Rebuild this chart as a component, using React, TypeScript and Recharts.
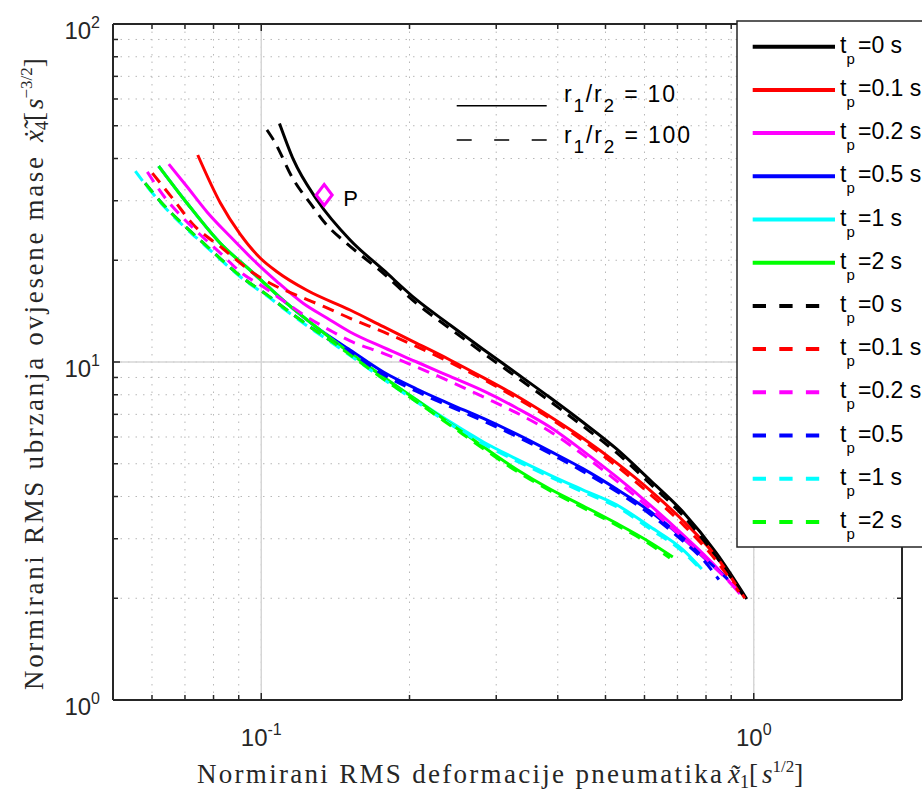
import React from "react";
import {
  ComposedChart,
  Line,
  Scatter,
  XAxis,
  YAxis,
  CartesianGrid,
  ReferenceLine,
} from "recharts";

const CHART_W = 922;
const CHART_H = 791;
const INK = "#262626";
const SANS = "'Liberation Sans', Arial, Helvetica, sans-serif";
const SERIF = "'Liberation Serif', 'Times New Roman', serif";

// axis ticks (log axes: minor + major)
const X_TICKS = [0.06, 0.07, 0.08, 0.09, 0.1, 0.2, 0.3, 0.4, 0.5, 0.6, 0.7, 0.8, 0.9, 1];
const Y_TICKS = [1, 2, 3, 4, 5, 6, 7, 8, 9, 10, 20, 30, 40, 50, 60, 70, 80, 90, 100];
const X_MAJOR = [0.1, 1];
const Y_MAJOR = [10];

// legend
const COLORS = ["#000000", "#ff0000", "#ff00ff", "#0000ff", "#00ffff", "#00ff00"];
const TP_SOLID = ["=0 s", "=0.1 s", "=0.2 s", "=0.5 s", "=1 s", "=2 s"];
const TP_DASHED = ["=0 s", "=0.1 s", "=0.2 s", "=0.5", "=1 s", "=2 s"];
const RATIOS = ["10", "100"];

// r1/r2 = 10 (solid)
const tp0R10X = [0.1089, 0.1163, 0.1297, 0.1515, 0.177, 0.2069, 0.2418, 0.2825, 0.3302, 0.3857, 0.4507, 0.5266, 0.6152, 0.7187, 0.84, 0.968];
const tp0R10Y = [50.8, 39.6, 30.2, 22.96, 18.72, 15.26, 12.87, 10.89, 9.25, 7.85, 6.62, 5.53, 4.48, 3.6, 2.72, 1.99];

const tp01R10X = [0.0743, 0.0826, 0.0906, 0.0995, 0.1076, 0.1238, 0.1515, 0.177, 0.2069, 0.2418, 0.2825, 0.3302, 0.3857, 0.4507, 0.5266, 0.6152, 0.7187, 0.84, 0.959];
const tp01R10Y = [40.97, 29.54, 23.91, 20.31, 18.5, 16.3, 14.25, 12.72, 11.36, 10.14, 8.99, 7.93, 6.9, 5.94, 5.03, 4.18, 3.39, 2.65, 2.0];

const tp02R10X = [0.0649, 0.0707, 0.0776, 0.0865, 0.0965, 0.1076, 0.1218, 0.1359, 0.1515, 0.177, 0.2069, 0.2418, 0.2825, 0.3302, 0.3857, 0.4507, 0.5266, 0.6152, 0.7187, 0.84, 0.937];
const tp02R10Y = [38.5, 33.0, 27.8, 23.5, 20.0, 17.3, 14.9, 13.5, 12.27, 11.04, 10.0, 9.06, 8.21, 7.31, 6.42, 5.45, 4.57, 3.78, 3.08, 2.47, 2.06];

const tp05R10X = [0.0619, 0.0707, 0.0826, 0.0965, 0.1127, 0.1317, 0.1515, 0.177, 0.2069, 0.2418, 0.2825, 0.3302, 0.3857, 0.4507, 0.5266, 0.6152, 0.7187, 0.7893, 0.8857];
const tp05R10Y = [38.0, 29.5, 22.45, 18.3, 14.9, 12.43, 10.85, 9.34, 8.32, 7.51, 6.81, 6.12, 5.45, 4.83, 4.21, 3.62, 3.01, 2.65, 2.28];

const tp1R10X = [0.0619, 0.0707, 0.0826, 0.0965, 0.1127, 0.1317, 0.1515, 0.177, 0.2069, 0.2418, 0.2825, 0.3302, 0.3857, 0.4507, 0.5266, 0.6152, 0.7187, 0.7843];
const tp1R10Y = [38.0, 29.5, 22.45, 18.3, 14.9, 12.43, 10.63, 9.03, 7.72, 6.65, 5.8, 5.16, 4.63, 4.18, 3.78, 3.26, 2.78, 2.44];

const tp2R10X = [0.0619, 0.0707, 0.0826, 0.0965, 0.1127, 0.1317, 0.1515, 0.177, 0.2069, 0.2418, 0.2825, 0.3302, 0.3857, 0.4507, 0.5266, 0.6152, 0.6849];
const tp2R10Y = [38.0, 29.5, 22.45, 18.3, 14.9, 12.43, 10.63, 9.03, 7.72, 6.58, 5.61, 4.81, 4.21, 3.75, 3.33, 2.93, 2.65];

// r1/r2 = 100 (dashed)
const tp0R100X = [0.1027, 0.1059, 0.1163, 0.1257, 0.1359, 0.1493, 0.177, 0.2069, 0.2418, 0.2825, 0.3302, 0.3857, 0.4507, 0.5266, 0.6152, 0.7187, 0.84, 0.955];
const tp0R100Y = [48.6, 45.4, 34.6, 29.5, 25.4, 22.4, 18.3, 14.88, 12.55, 10.62, 9.02, 7.65, 6.45, 5.39, 4.37, 3.51, 2.65, 2.03];

const tp01R100X = [0.0601, 0.0664, 0.0724, 0.0834, 0.0965, 0.1059, 0.12, 0.1338, 0.1515, 0.177, 0.2069, 0.2418, 0.2825, 0.3302, 0.3857, 0.4507, 0.5266, 0.6152, 0.7187, 0.84, 0.946];
const tp01R100Y = [36.2, 30.2, 25.7, 21.7, 18.3, 16.9, 15.6, 14.6, 13.47, 12.27, 11.11, 9.97, 8.88, 7.82, 6.81, 5.84, 4.92, 4.07, 3.3, 2.58, 2.03];

const tp02R100X = [0.0587, 0.0639, 0.069, 0.0752, 0.0826, 0.0914, 0.1009, 0.1118, 0.1238, 0.138, 0.1515, 0.177, 0.2069, 0.2418, 0.2825, 0.3302, 0.3857, 0.4507, 0.5266, 0.6152, 0.7187, 0.84, 0.919];
const tp02R100Y = [36.5, 30.5, 26.9, 23.8, 21.0, 18.3, 16.7, 15.05, 13.6, 12.4, 11.54, 10.61, 9.66, 8.76, 7.88, 7.07, 6.23, 5.31, 4.45, 3.69, 3.01, 2.44, 2.14];

const tp05R100X = [0.0581, 0.0634, 0.0696, 0.0764, 0.0839, 0.0928, 0.1027, 0.1127, 0.1257, 0.1391, 0.1515, 0.177, 0.2069, 0.2418, 0.2825, 0.3302, 0.3857, 0.4507, 0.5266, 0.6152, 0.7187, 0.7893, 0.8494];
const tp05R100Y = [33.8, 29.1, 25.4, 22.45, 19.8, 17.5, 15.8, 14.25, 12.7, 11.5, 10.7, 9.18, 8.18, 7.38, 6.69, 6.02, 5.36, 4.74, 4.14, 3.55, 2.95, 2.6, 2.27];

const tp1R100X = [0.0555, 0.0581, 0.0634, 0.0696, 0.0764, 0.0839, 0.0928, 0.1027, 0.1127, 0.1257, 0.1391, 0.1515, 0.177, 0.2069, 0.2418, 0.2825, 0.3302, 0.3857, 0.4507, 0.5266, 0.6152, 0.7187, 0.7771];
const tp1R100Y = [36.7, 33.6, 28.9, 25.2, 22.3, 19.7, 17.4, 15.7, 14.15, 12.6, 11.4, 10.45, 8.9, 7.62, 6.55, 5.72, 5.09, 4.57, 4.12, 3.73, 3.21, 2.74, 2.45];

const tp2R100X = [0.0581, 0.0634, 0.0696, 0.0764, 0.0839, 0.0928, 0.1027, 0.1127, 0.1257, 0.1391, 0.1515, 0.177, 0.2069, 0.2418, 0.2825, 0.3302, 0.3857, 0.4507, 0.5266, 0.6152, 0.6757];
const tp2R100Y = [33.8, 29.1, 25.4, 22.45, 19.8, 17.5, 15.8, 14.25, 12.7, 11.5, 10.5, 8.9, 7.62, 6.5, 5.54, 4.75, 4.16, 3.7, 3.29, 2.89, 2.63];

// marked point P
const pointPX = [0.1342];
const pointPY = [31.2];

const zip = (xs: number[], ys: number[]) => xs.map((x, i) => ({ x, y: ys[i] }));

const SOLID = [
  zip(tp0R10X, tp0R10Y),
  zip(tp01R10X, tp01R10Y),
  zip(tp02R10X, tp02R10Y),
  zip(tp05R10X, tp05R10Y),
  zip(tp1R10X, tp1R10Y),
  zip(tp2R10X, tp2R10Y),
];
const DASHED = [
  zip(tp0R100X, tp0R100Y),
  zip(tp01R100X, tp01R100Y),
  zip(tp02R100X, tp02R100Y),
  zip(tp05R100X, tp05R100Y),
  zip(tp1R100X, tp1R100Y),
  zip(tp2R100X, tp2R100Y),
];
const POINT_P = zip(pointPX, pointPY);

const isMajor = (v: number) => Math.abs(Math.log10(v) - Math.round(Math.log10(v))) < 1e-6;
const expOf = (v: number) => String(Math.round(Math.log10(v)));

function BottomTick({ x, y, payload }: any) {
  const major = isMajor(payload.value);
  return (
    <g>
      <line x1={x} x2={x} y1={y} y2={y - (major ? 7 : 5)} stroke={INK} strokeWidth={1.5} />
      {major && (
        <text x={x} y={y + 46} textAnchor="middle" fontFamily={SANS} fontSize={24} fill={INK}>
          10<tspan dy={-11} fontSize={16}>{expOf(payload.value)}</tspan>
        </text>
      )}
    </g>
  );
}

function TopTick({ x, y, payload }: any) {
  const major = isMajor(payload.value);
  return <line x1={x} x2={x} y1={y} y2={y + (major ? 7 : 5)} stroke={INK} strokeWidth={1.5} />;
}

function LeftTick({ x, y, payload }: any) {
  const major = isMajor(payload.value);
  return (
    <g>
      <line x1={x} x2={x + (major ? 7 : 5)} y1={y} y2={y} stroke={INK} strokeWidth={1.5} />
      {major && (
        <text x={x - 13} y={y + 15} textAnchor="end" fontFamily={SANS} fontSize={24} fill={INK}>
          10<tspan dy={-11} fontSize={16}>{expOf(payload.value)}</tspan>
        </text>
      )}
    </g>
  );
}

function RightTick({ x, y, payload }: any) {
  const major = isMajor(payload.value);
  return <line x1={x} x2={x - (major ? 7 : 5)} y1={y} y2={y} stroke={INK} strokeWidth={1.5} />;
}

function DiamondP({ cx, cy }: any) {
  return (
    <g>
      <path
        d={`M${cx},${cy - 10.5} L${cx + 8},${cy} L${cx},${cy + 10.5} L${cx - 8},${cy} Z`}
        fill="none"
        stroke="#ff00ff"
        strokeWidth={3}
      />
      <text x={cx + 19} y={cy + 11.5} fontFamily={SANS} fontSize={22} fill="#000">
        P
      </text>
    </g>
  );
}

function Overlay() {
  const rowY = (i: number) => 46.7 + i * 43.2;
  return (
    <svg
      width={CHART_W}
      height={CHART_H}
      style={{ position: "absolute", left: 0, top: 0, pointerEvents: "none" }}
    >
      {/* r1/r2 key */}
      <line x1={456.7} x2={546.7} y1={105.7} y2={105.7} stroke="#000" strokeWidth={1.5} />
      <line x1={456.7} x2={546.7} y1={140} y2={140} stroke="#000" strokeWidth={1.5} strokeDasharray="15 22.5" />
      {RATIOS.map((r, i) => (
        <text
          key={r}
          x={564}
          y={i === 0 ? 101.5 : 143}
          fontFamily={SANS}
          fontSize={23}
          fill="#000"
          textLength={i === 0 ? 111 : 126}
          lengthAdjust="spacing"
        >
          r<tspan dy={10} fontSize={19}>1</tspan>
          <tspan dy={-10}>/r</tspan>
          <tspan dy={10} fontSize={19}>2</tspan>
          <tspan dy={-10}>{" = " + r}</tspan>
        </text>
      ))}

      {/* legend */}
      <rect x={737} y={21} width={220} height={526} fill="#fff" stroke={INK} strokeWidth={1.5} />
      {COLORS.map((c, i) => (
        <g key={"ls" + i}>
          <line x1={752.7} x2={835} y1={rowY(i)} y2={rowY(i)} stroke={c} strokeWidth={4} />
          <text x={840} y={rowY(i) + 6} fontFamily={SANS} fontSize={23} fill="#000">t</text>
          <text x={846.5} y={rowY(i) + 17} fontFamily={SANS} fontSize={15} fill="#000">p</text>
          <text x={858} y={rowY(i) + 6} fontFamily={SANS} fontSize={23} fill="#000">{TP_SOLID[i]}</text>
        </g>
      ))}
      {COLORS.map((c, i) => (
        <g key={"ld" + i}>
          <line
            x1={752.7}
            x2={819.3}
            y1={rowY(i + 6)}
            y2={rowY(i + 6)}
            stroke={c}
            strokeWidth={4}
            strokeDasharray="13.3 13.3"
          />
          <text x={840} y={rowY(i + 6) + 6} fontFamily={SANS} fontSize={23} fill="#000">t</text>
          <text x={846.5} y={rowY(i + 6) + 17} fontFamily={SANS} fontSize={15} fill="#000">p</text>
          <text x={858} y={rowY(i + 6) + 6} fontFamily={SANS} fontSize={23} fill="#000">{TP_DASHED[i]}</text>
        </g>
      ))}

      {/* x axis title */}
      <text x={197} y={783} fontFamily={SERIF} fontSize={27} fill={INK} textLength={525} lengthAdjust="spacing">
        Normirani RMS deformacije pneumatika
      </text>
      <text x={728} y={783} fontFamily={SERIF} fontSize={27} fill={INK}>
        <tspan fontStyle="italic">{"x\u0303"}</tspan>
        <tspan dy={5} fontSize={18}>1</tspan>
        <tspan dy={-5}>[</tspan>
        <tspan fontStyle="italic" dx={4}>s</tspan>
        <tspan dy={-11} fontSize={17}>1/2</tspan>
        <tspan dy={11}>]</tspan>
      </text>

      {/* y axis title */}
      <g transform="translate(43,690) rotate(-90)">
        <text x={0} y={0} fontFamily={SERIF} fontSize={27} fill={INK} textLength={533} lengthAdjust="spacing">
          Normirani RMS ubrzanja ovjesene mase
        </text>
        <text x={548} y={0} fontFamily={SERIF} fontSize={27} fill={INK}>
          <tspan fontStyle="italic">{"x\u0307\u0303"}</tspan>
          <tspan dy={5} fontSize={18}>4</tspan>
          <tspan dy={-5}>[</tspan>
          <tspan fontStyle="italic" dx={3}>s</tspan>
          <tspan dy={-11} fontSize={17}>{"\u22123/2"}</tspan>
          <tspan dy={11}>]</tspan>
        </text>
      </g>
    </svg>
  );
}

export default function App() {
  return (
    <div
      style={{
        position: "absolute",
        left: 0,
        top: 0,
        width: CHART_W,
        height: CHART_H,
        overflow: "hidden",
        background: "#fff",
      }}
    >
      <ComposedChart width={CHART_W} height={CHART_H} margin={{ top: 0, right: 0, bottom: 61, left: 53 }}>
        <CartesianGrid stroke="#b8b8b8" strokeWidth={1} strokeDasharray="1.5 6" />
        {X_MAJOR.map((v) => (
          <ReferenceLine key={"gx" + v} x={v} stroke="#d6d6d6" strokeWidth={1.5} />
        ))}
        {Y_MAJOR.map((v) => (
          <ReferenceLine key={"gy" + v} y={v} stroke="#d6d6d6" strokeWidth={1.5} />
        ))}
        <XAxis
          dataKey="x"
          type="number"
          scale="log"
          domain={[0.05, 2]}
          allowDataOverflow
          ticks={X_TICKS}
          interval={0}
          tickSize={0}
          tickMargin={0}
          tickLine={false}
          tick={BottomTick}
          height={30}
          axisLine={{ stroke: INK, strokeWidth: 2 }}
        />
        <XAxis
          xAxisId="top"
          orientation="top"
          dataKey="x"
          type="number"
          scale="log"
          domain={[0.05, 2]}
          allowDataOverflow
          ticks={X_TICKS}
          interval={0}
          tickSize={0}
          tickMargin={0}
          tickLine={false}
          tick={TopTick}
          height={24}
          axisLine={{ stroke: INK, strokeWidth: 2 }}
        />
        <YAxis
          type="number"
          scale="log"
          domain={[1, 100]}
          allowDataOverflow
          ticks={Y_TICKS}
          interval={0}
          tickSize={0}
          tickMargin={0}
          tickLine={false}
          tick={LeftTick}
          width={60}
          axisLine={{ stroke: INK, strokeWidth: 2 }}
        />
        <YAxis
          yAxisId="right"
          orientation="right"
          type="number"
          scale="log"
          domain={[1, 100]}
          allowDataOverflow
          ticks={Y_TICKS}
          interval={0}
          tickSize={0}
          tickMargin={0}
          tickLine={false}
          tick={RightTick}
          width={20}
          axisLine={{ stroke: INK, strokeWidth: 2 }}
        />
        {SOLID.map((d, i) => (
          <Line
            key={"solid" + i}
            data={d}
            dataKey="y"
            type="monotone"
            stroke={COLORS[i]}
            strokeWidth={3}
            dot={false}
            activeDot={false}
            isAnimationActive={false}
          />
        ))}
        {DASHED.map((d, i) => (
          <Line
            key={"dashed" + i}
            data={d}
            dataKey="y"
            type="monotone"
            stroke={COLORS[i]}
            strokeWidth={3}
            strokeDasharray="12 8"
            dot={false}
            activeDot={false}
            isAnimationActive={false}
          />
        ))}
        <Scatter data={POINT_P} dataKey="y" shape={DiamondP} isAnimationActive={false} />
      </ComposedChart>
      <Overlay />
    </div>
  );
}
